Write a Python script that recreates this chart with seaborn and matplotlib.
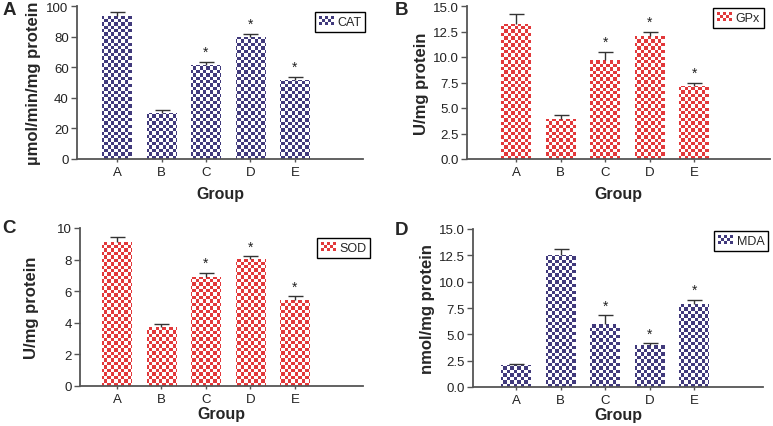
import numpy as np
import pandas as pd
import matplotlib
matplotlib.use("Agg")
import matplotlib.pyplot as plt
import seaborn as sns
from matplotlib.patches import Patch, Rectangle
from matplotlib.legend_handler import HandlerBase
from matplotlib.colors import to_rgb

groups = ["A", "B", "C", "D", "E"]
cat_mean = [93.5, 30.3, 61.5, 80.0, 51.5]
cat_err = [2.4, 2.0, 2.0, 1.8, 2.2]
gpx_mean = [13.2, 3.9, 9.7, 12.1, 7.2]
gpx_err = [1.0, 0.4, 0.8, 0.4, 0.3]
sod_mean = [9.1, 3.75, 6.9, 8.05, 5.45]
sod_err = [0.35, 0.2, 0.25, 0.17, 0.22]
mda_mean = [2.05, 12.5, 6.0, 3.95, 7.9]
mda_err = [0.15, 0.6, 0.8, 0.2, 0.4]
sig = ["", "", "*", "*", "*"]

NAVY = "#413a7c"
RED = "#e2393b"

sns.set_style("ticks")
plt.rcParams["font.family"] = ["Liberation Sans", "DejaVu Sans"]

W, H = 773, 427
fig = plt.figure(figsize=(W / 100, H / 100), dpi=100)


class CheckerHandler(HandlerBase):
    def create_artists(self, legend, orig_handle, xdescent, ydescent, width, height,
                       fontsize, trans):
        color = orig_handle.get_facecolor()
        nx, ny = 5, 3
        cw, ch = width / nx, height / ny
        arts = [Rectangle((-xdescent, -ydescent), width, height, facecolor="white",
                          edgecolor="none", transform=trans)]
        for i in range(ny):
            for j in range(nx):
                if (i + j) % 2 == 0:
                    arts.append(Rectangle((-xdescent + j * cw, -ydescent + i * ch), cw, ch,
                                          facecolor=color, edgecolor="none", transform=trans))
        return arts


def ax_at(l, r, t, b):
    return fig.add_axes([l / W, 1 - b / H, (r - l) / W, (b - t) / H])


panels = [
    dict(letter="A", name="CAT", mean=cat_mean, err=cat_err, color=NAVY,
         box=(77, 363, 7, 160), xlim=(-0.9, 5.53), ylim=(0, 100),
         yticks=[0, 20, 40, 60, 80, 100], fmt="{:.0f}",
         ylabel="µmol/min/mg protein", letter_xy=(3, 2), leg_xy=(315, 13),
         lpad=4, xpad=6),
    dict(letter="B", name="GPx", mean=gpx_mean, err=gpx_err, color=RED,
         box=(467, 770, 7, 160), xlim=(-1.1, 5.7), ylim=(0, 15),
         yticks=[0, 2.5, 5, 7.5, 10, 12.5, 15], fmt="{:.1f}",
         ylabel="U/mg protein", letter_xy=(395, 2), leg_xy=(713, 9),
         lpad=3, xpad=6),
    dict(letter="C", name="SOD", mean=sod_mean, err=sod_err, color=RED,
         box=(80, 363, 229, 387), xlim=(-0.83, 5.53), ylim=(0, 10),
         yticks=[0, 2, 4, 6, 8, 10], fmt="{:.0f}",
         ylabel="U/mg protein", letter_xy=(2, 220), leg_xy=(317, 239),
         lpad=13, xpad=0.5),
    dict(letter="D", name="MDA", mean=mda_mean, err=mda_err, color=NAVY,
         box=(473, 763, 230, 388), xlim=(-0.97, 5.55), ylim=(0, 15),
         yticks=[0, 2.5, 5, 7.5, 10, 12.5, 15], fmt="{:.1f}",
         ylabel="nmol/mg protein", letter_xy=(395, 222), leg_xy=(714, 232),
         lpad=3, xpad=0.5),
]

for p in panels:
    l, r, t, b = p["box"]
    ax = ax_at(l, r, t, b)
    df = pd.DataFrame({"Group": groups, "value": p["mean"]})
    sns.barplot(data=df, x="Group", y="value", color=p["color"], saturation=1,
                width=0.67, errorbar=None, linewidth=0, ax=ax, zorder=2)

    # checkerboard texture clipped to each bar
    cell = 3.4
    nx = int(round((r - l) / cell))
    ny = int(round((b - t) / cell))
    ii, jj = np.indices((ny, nx))
    mask = (ii + jj) % 2 == 0
    img = np.ones((ny, nx, 3))
    img[mask] = to_rgb(p["color"])
    for patch in list(ax.patches):
        im = ax.imshow(img, extent=(p["xlim"][0], p["xlim"][1], p["ylim"][0], p["ylim"][1]),
                       origin="lower", aspect="auto", interpolation="nearest", zorder=2.5)
        im.set_clip_path(patch)

    eb = ax.errorbar(np.arange(len(groups)), p["mean"], yerr=[np.zeros(len(groups)), p["err"]],
                     fmt="none", ecolor="#333333", elinewidth=1.0, capsize=5.4, capthick=1.0,
                     zorder=3)
    eb[1][0].set_visible(False)

    for i, s in enumerate(sig):
        if s:
            ax.annotate(s, (i, p["mean"][i] + p["err"][i]), xytext=(0, 2),
                        textcoords="offset points", ha="center", va="bottom",
                        fontsize=10, color="#222222")

    ax.set_xlim(*p["xlim"])
    ax.set_ylim(*p["ylim"])
    ax.set_yticks(p["yticks"])
    ax.set_yticklabels([p["fmt"].format(v) for v in p["yticks"]])
    sns.despine(ax=ax)
    for sp in ("left", "bottom"):
        ax.spines[sp].set_color("#555555")
        ax.spines[sp].set_linewidth(1.3)
    ax.tick_params(axis="y", direction="out", length=4, width=1, color="#555555",
                   labelsize=9.5, labelcolor="#222222", pad=2)
    ax.tick_params(axis="x", direction="out", length=2, width=1, color="#555555",
                   labelsize=9.5, labelcolor="#222222", pad=3)
    ax.set_xlabel("Group", fontsize=11.5, fontweight="bold", labelpad=p["xpad"])
    ax.set_ylabel(p["ylabel"], fontsize=12, fontweight="bold", labelpad=p["lpad"])

    handle = Patch(facecolor=p["color"], label=p["name"])
    lx, ly = p["leg_xy"]
    leg = ax.legend(handles=[handle], loc="upper left", bbox_to_anchor=(lx / W, 1 - ly / H),
                    bbox_transform=fig.transFigure, frameon=True, fancybox=False,
                    edgecolor="black", framealpha=1, fontsize=9, handlelength=1.2,
                    handleheight=0.7, borderpad=0.3, handletextpad=0.3, borderaxespad=0,
                    handler_map={Patch: CheckerHandler()})
    leg.get_frame().set_linewidth(1.0)

    fig.text(p["letter_xy"][0] / W, 1 - p["letter_xy"][1] / H, p["letter"],
             fontsize=13.5, fontweight="bold", va="top", ha="left")

fig.savefig("out.png", dpi=100)
